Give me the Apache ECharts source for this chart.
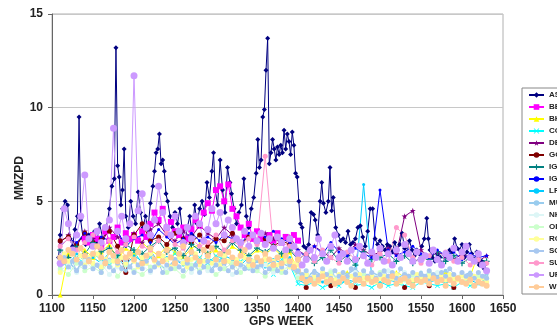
<!DOCTYPE html>
<html><head><meta charset="utf-8">
<script src="https://cdn.jsdelivr.net/npm/echarts@6/dist/echarts.min.js"></script>
<style>html,body{margin:0;padding:0;background:#fff}#c{width:557px;height:333px}</style>
</head><body><div id="c"></div>
<script>
const NAMES = ['ASI','BEK','BKG','COE','DEO','GOP','IGE','IGN','LPT','MUT','NKG','OLG','ROB','SGO','SUT','UPA','WUT'];
const X_TICKS = [1100,1150,1200,1250,1300,1350,1400,1450,1500,1550,1600,1650];
const Y_TICKS = [0,5,10,15];

const ASI = [[1108,2.0],[1110,3.2],[1113,4.6],[1116,5.0],[1119,4.8],[1122,3.0],[1125,2.6],[1128,3.5],[1131,4.2],[1133,9.5],[1135,4.0],[1138,3.0],[1141,2.7],[1145,3.2],[1148,2.6],[1152,3.4],[1155,2.8],[1158,3.8],[1162,3.0],[1166,3.5],[1170,4.6],[1173,5.8],[1176,6.2],[1178,13.2],[1180,6.9],[1182,6.3],[1184,4.8],[1186,5.6],[1188,7.8],[1190,4.2],[1193,3.6],[1196,5.0],[1199,4.2],[1202,3.8],[1205,5.5],[1208,4.4],[1211,3.6],[1214,4.2],[1217,3.5],[1220,4.9],[1223,5.8],[1225,6.6],[1227,7.6],[1229,7.8],[1231,8.6],[1233,7.0],[1235,7.2],[1237,6.6],[1239,5.4],[1241,5.0],[1244,4.2],[1247,3.6],[1250,4.4],[1253,3.8],[1256,4.6],[1259,3.4],[1262,2.8],[1265,3.6],[1268,4.2],[1271,3.2],[1274,4.8],[1277,3.8],[1280,4.6],[1283,5.0],[1286,4.3],[1289,6.0],[1292,5.2],[1295,6.6],[1297,7.6],[1299,5.6],[1302,4.8],[1305,7.2],[1308,5.6],[1311,4.4],[1314,6.8],[1317,6.0],[1319,5.4],[1322,4.6],[1325,3.8],[1328,4.4],[1331,4.8],[1334,6.2],[1337,4.2],[1340,3.6],[1343,4.6],[1346,5.2],[1349,6.5],[1351,8.3],[1353,6.8],[1355,7.2],[1357,9.5],[1359,9.9],[1361,12.0],[1363,13.7],[1365,7.0],[1367,7.6],[1369,8.3],[1371,7.8],[1373,7.2],[1375,7.9],[1377,7.5],[1379,8.0],[1381,7.6],[1383,8.8],[1385,7.8],[1387,8.6],[1389,8.2],[1391,7.5],[1393,8.7],[1395,8.0],[1397,6.5],[1399,6.3],[1401,5.0],[1403,3.8],[1405,3.6],[1407,2.6],[1410,2.5],[1413,2.7],[1416,4.4],[1419,4.3],[1421,4.0],[1424,3.2],[1427,5.0],[1429,6.0],[1431,4.9],[1434,4.4],[1437,5.0],[1439,6.8],[1441,4.5],[1443,5.2],[1446,3.6],[1449,3.2],[1452,2.9],[1455,3.0],[1458,2.8],[1461,3.4],[1464,2.7],[1467,2.8],[1470,3.0],[1473,3.6],[1476,3.7],[1479,3.1],[1482,2.6],[1485,3.4],[1488,4.6],[1491,4.6],[1494,3.0],[1497,2.7],[1500,2.9],[1503,2.6],[1506,2.4],[1509,2.7],[1512,2.6],[1515,2.3],[1518,2.8],[1521,2.4],[1524,2.7],[1527,3.3],[1530,2.5],[1533,2.3],[1536,2.9],[1539,2.4],[1542,2.1],[1545,2.4],[1548,2.2],[1551,2.6],[1554,3.0],[1557,4.1],[1559,3.0],[1561,2.4],[1564,2.0],[1567,1.8],[1570,2.2],[1573,2.0],[1576,1.6],[1579,2.1],[1582,2.0],[1585,2.4],[1588,2.3],[1591,3.0],[1594,2.5],[1597,2.4],[1600,2.7],[1603,2.0],[1606,2.3],[1609,2.7],[1612,2.2],[1615,1.9],[1618,2.3],[1621,1.6],[1624,1.8],[1627,1.4],[1630,1.7]];

const WEEKS5 = [1110,1115,1120,1125,1130,1135,1140,1145,1150,1155,1160,1165,1170,1175,1180,1185,1190,1195,1200,1205,1210,1215,1220,1225,1230,1235,1240,1245,1250,1255,1260,1265,1270,1275,1280,1285,1290,1295,1300,1305,1310,1315,1320,1325,1330,1335,1340,1345,1350,1355,1360,1365,1370,1375,1380,1385,1390,1395,1400,1405,1410,1415,1420,1425,1430,1435,1440,1445,1450,1455,1460,1465,1470,1475,1480,1485,1490,1495,1500,1505,1510,1515,1520,1525,1530,1535,1540,1545,1550,1555,1560,1565,1570,1575,1580,1585,1590,1595,1600,1605,1610,1615,1620,1625,1630];
const WEEKS10 = [1110,1120,1130,1140,1150,1160,1170,1180,1190,1200,1210,1220,1230,1240,1250,1260,1270,1280,1290,1300,1310,1320,1330,1340,1350,1360,1370,1380,1390,1400,1410,1420,1430,1440,1450,1460,1470,1480,1490,1500,1510,1520,1530,1540,1550,1560,1570,1580,1590,1600,1610,1620,1630];

const BEK = [null,null,null,null,null,null,3.0, 2.8,3.2,3.0,2.6,3.4,2.9,3.1,3.6,2.8,3.3,3.0, 3.2, 2.9,3.4,3.1,3.8,4.4,4.0,4.6,3.6,3.9,3.4, 3.2,3.6,3.0,3.5,4.0,3.7,4.4,4.9,4.5,5.6, 5.8,5.0,5.9,4.6,4.2,3.6,3.2,3.8,3.0,3.4, 3.0,2.8,3.2,2.9,3.3,2.8,3.1,3.0,3.2,2.9, null,null,null,null,null,null,null,null,null,null, null,null,null,null,null,null,null,null,null,null, null,null,null,null,null,null,null,null,null,null, null,null,null,null,null,null,null,null,null,null, null,null,null,null,null,null];
const UPA = [1.7,4.6,3.8,2.4,3.2,4.2,6.4, 3.0,2.6,3.4,2.8,3.6,4.0,8.9,3.4,4.2,3.0,3.8, 11.7, 4.5,5.4,3.6,3.2,4.0,5.8,4.4,3.6,3.2,4.2, 3.4,2.8,3.6,3.0,4.2,3.8,2.9,3.5,4.6,3.8, 4.4,3.2,4.0,3.6,3.0,2.8,3.4,2.6,3.2,2.9, 3.3,2.7,3.0,2.5,3.1,2.8,2.4,3.0,2.6,2.2, 1.6,1.9,2.4,2.0,3.0,2.2,1.8,2.6,3.2,2.0, 2.2,1.8,2.4,1.9,2.6,2.1,1.7,2.3,2.0,2.5, 1.8,2.2,1.6,2.4,2.0,2.7,2.2,1.8,2.3,1.9, 2.1,1.7,2.4,1.9,1.6,2.2,2.0,2.5,1.8,2.3, 2.6,2.0,1.8,2.2,1.6,1.3];
const WUT = [2.0,1.8,2.4,2.2,1.9,2.5,2.1, 1.8,2.2,2.6,2.0,1.7,2.3,2.1,1.8,2.4,2.0,2.2, 1.9, 2.3,1.7,2.1,2.5,1.9,2.2,1.8,2.4,2.0,1.7, 2.2,2.6,1.9,2.3,2.0,1.8,2.4,2.1,2.5,1.9, 2.2,1.8,2.3,2.0,1.7,2.1,2.4,1.9,1.6,2.0, 1.8,2.2,1.9,1.6,2.0,1.7,2.1,1.8,1.5,1.9, 0.9,0.7,0.8,0.6,0.8,1.0,0.7,0.8,0.6,0.7, 0.9,0.7,0.5,0.8,0.8,0.6,0.9,0.7,0.8,0.5, 0.8,0.7,1.0,0.6,0.8,0.9,0.7,0.5,0.8,0.7, 0.8,0.6,0.9,0.7,0.8,0.5,0.8,0.6,0.9,0.7, 0.6,0.8,0.5,0.7,0.6,0.5];
const SGO = [1.6,2.0,1.5,1.8,1.3,1.7,1.5, 1.9,1.4,1.6,1.2,1.8,1.5,1.3,1.7,1.4,1.9,1.5, 1.2, 1.6,1.4,1.8,1.3,1.5,1.7,1.2,1.6,1.4,1.9, 1.5,1.3,1.7,1.4,1.6,1.2,1.5,1.8,1.3,1.6, 1.4,1.7,1.3,1.5,1.2,1.6,1.4,1.8,1.3,1.5, 1.6,1.2,1.4,1.7,1.3,1.5,1.2,1.6,1.4,1.3, 1.1,1.3,0.9,1.2,1.0,1.4,1.1,0.9,1.3,1.0, 1.2,1.0,1.4,1.1,0.9,1.3,1.0,1.2,0.9,1.1, 1.3,1.0,1.2,0.9,1.4,1.1,1.0,1.2,0.9,1.1, 1.0,1.3,1.1,0.9,1.2,1.0,1.4,1.1,0.9,1.2, 1.0,1.1,0.9,1.2,1.0,0.9];
const ROB = [1.2,2.2,1.8,2.4,1.9,2.1,1.6, 2.0,1.7,2.2,1.5,1.9,2.3,1.8,1.6,2.0,1.7,2.1, 1.8, 1.5,2.0,1.7,2.2,1.8,1.6,2.1,1.9,1.5,1.8, 2.0,1.7,1.5,1.9,2.2,1.6,1.8,2.0,1.7,1.9, 1.6,2.1,1.8,1.5,1.9,1.7,2.0,1.6,1.8,1.5, 1.7,1.9,1.5,1.8,1.6,1.4,1.8,1.5,1.7,1.6, 0.9,1.1,0.8,1.0,0.7,1.2,0.9,1.0,0.8,1.1, 0.9,0.7,1.0,0.8,1.1,0.9,0.8,1.0,0.7,0.9, 1.0,0.8,0.9,1.1,0.7,0.9,1.0,0.8,1.1,0.9, 0.8,1.0,0.9,0.7,1.0,0.8,1.1,0.9,0.8,1.0, 0.9,0.7,1.0,0.8,0.9,0.7];

const BKG = [0.0,2.2,2.6,2.4,2.0,2.3,2.7,1.9,2.5,2.2,2.8,2.4,2.1,2.6,2.3,2.0,2.5,2.7,2.2,2.4,2.1,2.6,2.3,2.0,2.4,2.2,2.5,2.1,2.3, 1.2,1.0,0.9,1.1,0.8,1.0,1.2,0.9,1.1,0.8,1.0,0.9,1.2,1.0,0.8,1.1,0.9,1.0,1.2,0.9,1.1,1.0,2.2,1.0];
const COE = [1.8,1.5,2.0,1.7,2.2,1.9,1.6,2.1,1.8,2.3,1.7,2.0,1.6,1.9,2.2,1.8,1.5,2.0,1.7,2.1,1.9,1.6,1.8,2.0,1.5,1.7,1.1,1.9,1.6, 0.6,0.5,0.7,0.4,0.6,0.5,0.8,0.5,0.6,0.4,0.7,0.5,0.6,0.5,0.4,0.7,0.6,0.5,0.6,0.4,0.7,0.5,0.6,0.8];
const DEO = [2.8,3.2,2.6,3.4,3.0,2.7,3.6,3.1,2.9,3.3,2.8,3.5,3.8,3.2,2.9,3.4,3.1,3.7,3.3,3.0,3.6,3.2,2.8,3.1,2.9,3.3,3.0,2.8,3.1, 2.4,2.1,2.6,2.3,2.0,2.5,2.2,2.7,2.4,2.1,2.3,2.5,2.2,4.2,4.5,2.4,2.0,2.3,2.1,1.9,2.2,2.0,1.8,2.1];
const GOP = [2.9,3.1,2.7,3.3,2.8,3.0,3.4,2.6,1.2,3.2,3.8,2.9,3.1,2.7,3.3,3.0,2.8,3.2,2.6,3.0,2.9,3.3,2.7,3.1,2.8,3.0,2.6,2.9,2.7, null,0.4,null,null,0.5,null,null,0.4,null,null,0.5,null,null,0.4,null,null,0.5,null,null,0.4,null,null,null,null];
const IGE = [2.4,2.0,2.6,2.2,2.8,2.3,2.5,2.1,2.7,2.4,2.2,2.6,2.9,2.3,2.5,2.1,2.7,2.4,2.2,2.6,2.3,2.8,2.4,2.1,2.5,2.3,2.6,2.2,2.4, 1.9,2.2,1.7,2.0,2.4,1.8,2.1,1.6,2.3,1.9,2.0,2.2,1.8,2.1,1.7,2.0,1.9,2.3,1.8,2.1,1.7,2.0,1.9,1.8];
const IGN = [2.6,3.0,2.8,3.3,2.7,3.1,2.9,3.4,2.6,3.0,3.2,2.8,3.5,3.1,2.7,3.0,3.3,2.9,3.1,2.8,3.2,3.0,2.7,3.3,2.9,3.1,3.4,3.0,2.8, 2.4,2.0,2.6,2.2,2.8,2.3,2.1,2.5,2.2,2.0,5.6,2.4,2.1,2.3,2.6,2.2,2.0,2.4,2.1,2.3,1.9,2.2,2.0,2.1];
const LPT = [1.9,1.6,2.2,1.8,2.0,1.7,2.3,1.9,1.6,2.1,1.8,2.4,1.7,2.0,1.9,1.6,2.2,1.8,2.0,1.7,2.1,1.9,1.6,2.0,1.8,1.5,1.9,1.7,2.0, 0.8,0.6,0.9,0.7,1.0,0.6,0.8,0.7,5.9,0.9,0.6,0.8,0.7,1.0,0.6,0.9,0.7,0.8,0.6,0.9,0.7,0.8,0.6,0.9];
const MUT = [1.5,1.8,1.3,2.0,1.6,1.4,1.9,1.7,1.3,1.8,1.5,2.1,1.6,1.4,1.9,1.7,1.5,1.8,1.3,1.6,2.0,1.5,1.7,1.4,1.8,1.6,1.3,1.7,1.5, 1.1,0.9,1.3,1.0,1.2,0.8,1.1,1.4,0.9,1.2,1.0,1.3,0.9,1.1,1.0,1.2,0.8,1.1,1.3,0.9,1.0,1.2,0.9,1.1];
const NKG = [1.3,1.6,1.2,1.8,1.4,1.7,1.1,1.5,1.9,1.3,1.6,1.2,1.7,1.4,1.5,1.8,1.2,1.6,1.3,1.7,1.4,1.1,1.5,1.8,1.3,1.6,1.2,1.4,1.5, 1.0,1.2,0.9,1.1,1.3,0.8,1.0,1.2,0.9,1.1,1.0,1.3,0.9,1.2,1.0,0.8,1.1,1.2,0.9,1.0,1.1,0.8,1.0,0.9];
const OLG = [1.4,1.1,1.7,1.3,1.5,1.2,1.8,1.0,1.6,1.3,1.1,1.5,1.7,1.2,1.4,1.0,1.6,1.3,1.5,1.1,1.4,1.7,1.2,1.5,1.3,1.0,1.4,1.2,1.6, 0.9,1.1,0.8,1.0,1.2,0.7,1.0,0.9,1.1,0.8,1.2,0.9,1.0,0.8,1.1,0.9,1.2,0.8,1.0,0.9,1.1,0.7,1.0,0.9];
const SUT = [2.6,3.0,2.4,2.8,3.2,2.5,2.9,2.3,2.7,3.1,2.6,2.4,2.9,3.3,2.7,2.5,3.0,2.6,2.8,3.2,2.4,2.9,2.6,3.0,2.7,7.4,2.5,2.8,2.6, 1.9,2.2,1.8,2.4,2.0,1.7,2.3,1.9,2.1,1.6,2.2,1.8,3.6,3.2,2.0,1.7,2.1,1.9,2.3,1.8,2.0,1.6,1.9,1.7];

const COLORS = {ASI:'#000080',BEK:'#FF00FF',BKG:'#FFFF00',COE:'#00FFFF',DEO:'#800080',GOP:'#800000',IGE:'#008080',IGN:'#0000FF',LPT:'#00CCFF',MUT:'#99CCEE',NKG:'#DDF6F6',OLG:'#CCFFCC',ROB:'#FFFF99',SGO:'#A8C8F0',SUT:'#FF99CC',UPA:'#CC99FF',WUT:'#FFCC99'};
const STAR = 'path://M5,0L6.2,3.8L10,3.8L6.9,6.1L8.1,10L5,7.6L1.9,10L3.1,6.1L0,3.8L3.8,3.8Z';
const PLUS = 'path://M4,0H6V4H10V6H6V10H4V6H0V4H4Z';
const CROSS = 'path://M1,0L5,4L9,0L10,1L6,5L10,9L9,10L5,6L1,10L0,9L4,5L0,1Z';
const SYM = {ASI:['diamond',5],BEK:['rect',6],BKG:['triangle',5],COE:[CROSS,5],DEO:[STAR,6],GOP:['circle',5],IGE:[PLUS,6],IGN:['circle',3],LPT:['circle',3],MUT:['circle',4],NKG:['circle',5],OLG:['circle',5],ROB:['circle',5],SGO:['circle',5],SUT:['circle',5],UPA:['circle',7],WUT:['circle',6]};

const SRC = {ASI:ASI, BEK:[WEEKS5,BEK], BKG:[WEEKS10,BKG], COE:[WEEKS10,COE], DEO:[WEEKS10,DEO], GOP:[WEEKS10,GOP], IGE:[WEEKS10,IGE], IGN:[WEEKS10,IGN], LPT:[WEEKS10,LPT], MUT:[WEEKS10,MUT], NKG:[WEEKS10,NKG], OLG:[WEEKS10,OLG], ROB:[WEEKS5,ROB], SGO:[WEEKS5,SGO], SUT:[WEEKS10,SUT], UPA:[WEEKS5,UPA], WUT:[WEEKS5,WUT]};

function pairs(n){
  const s = SRC[n];
  if (n === 'ASI') return s;
  return s[0].map((w,i)=>[w, s[1][i]]);
}

const series = NAMES.map(n => ({
  name: n, type: 'line', data: pairs(n),
  symbol: SYM[n][0], symbolSize: SYM[n][1], showSymbol: true,
  lineStyle: {width: n==='MUT'?1.5:1, color: COLORS[n]},
  itemStyle: {color: COLORS[n]},
  connectNulls: false, animation: false
}));

const FONT = 'Liberation Sans, Arial, sans-serif';
const chart = echarts.init(document.getElementById('c'), null, {renderer:'canvas'});
chart.setOption({
  animation: false,
  backgroundColor: '#fff',
  grid: {left: 52, right: 54, top: 14, bottom: 38, show: true, borderColor: '#b0b0b0', borderWidth: 1},
  xAxis: {type:'value', min: X_TICKS[0], max: X_TICKS[X_TICKS.length-1], interval: 50,
    axisLine:{show:true, onZero:false, lineStyle:{color:'#666', width:1}},
    axisTick:{show:true, length:4, lineStyle:{color:'#666'}},
    axisLabel:{fontFamily:FONT, fontWeight:'bold', fontSize:12, color:'#222', margin:8, formatter: v => String(v)},
    splitLine:{show:false}},
  yAxis: {type:'value', min: Y_TICKS[0], max: Y_TICKS[Y_TICKS.length-1], interval: 5,
    axisLine:{show:true, lineStyle:{color:'#666', width:1}},
    axisTick:{show:true, length:4, lineStyle:{color:'#666'}},
    axisLabel:{fontFamily:FONT, fontWeight:'bold', fontSize:12, color:'#222', margin:9, formatter: v => String(v)},
    splitLine:{show:true, lineStyle:{color:'#c8c8c8', width:1}}},
  legend: {orient:'vertical', left: 522, top: 88, itemWidth: 15, itemHeight: 7, itemGap: 4,
    padding:[3,30,3,6], borderColor:'#888', borderWidth:1, backgroundColor:'#fff',
    textStyle:{fontFamily:FONT, fontSize:8, fontWeight:'bold', color:'#222'},
    data: NAMES},
  graphic: [
    {type:'text', left: 249, top: 316, style:{text:'GPS WEEK', font:'bold 12px '+FONT, fill:'#222'}},
    {type:'text', x: 20, y: 178, rotation: Math.PI/2, style:{text:'MMZPD', font:'bold 12px '+FONT, fill:'#222', align:'center', verticalAlign:'middle'}}
  ],
  series: series
});
</script></body></html>
